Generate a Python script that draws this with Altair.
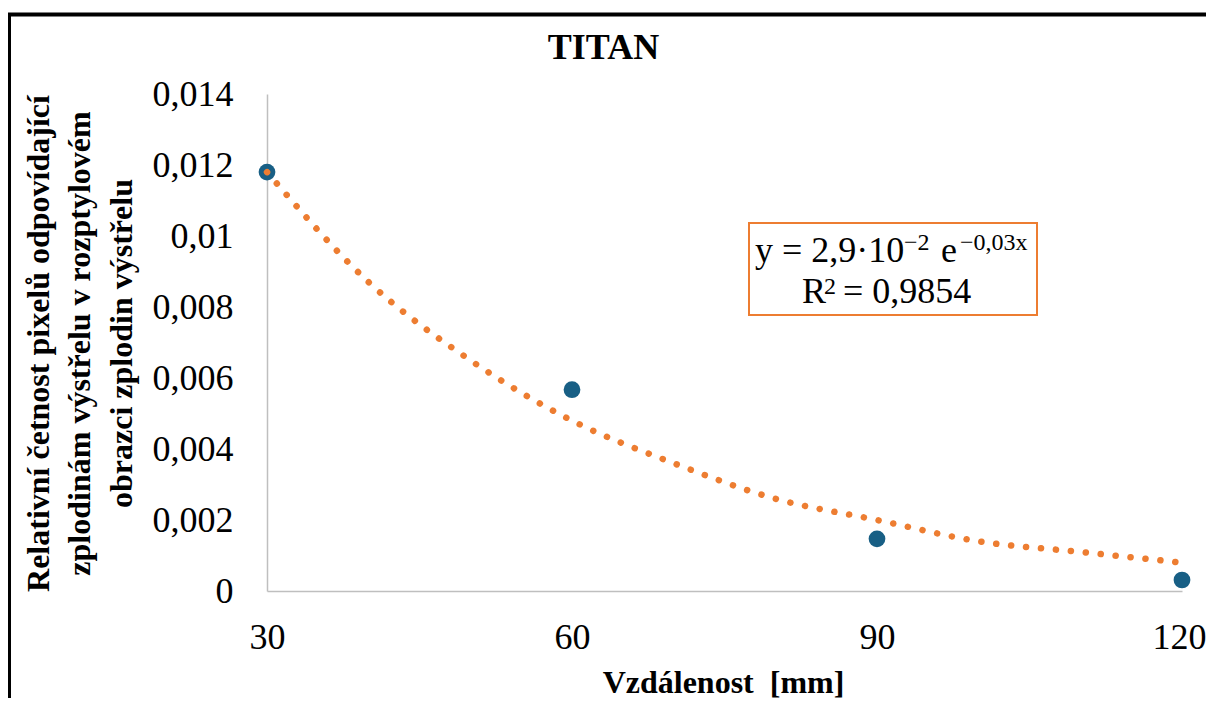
import altair as alt
import pandas as pd

# Measured data points
distance = [30, 60, 90, 120]
rel_freq = [0.0118, 0.00567, 0.00147, 0.00031]

# Exponential trend line
trend_x = [30, 40, 50, 60, 70, 80, 90, 100, 110, 120]
trend_y = [0.0118, 0.0087, 0.0065, 0.0048, 0.0036, 0.0026, 0.0020, 0.0014, 0.0011, 0.0008]

y_ticks = [0, 0.002, 0.004, 0.006, 0.008, 0.010, 0.012, 0.014]
x_ticks = [30, 60, 90, 120]

points_df = pd.DataFrame({"x": distance, "y": rel_freq})
trend_df = pd.DataFrame({"x": trend_x, "y": trend_y})
one = pd.DataFrame({"a": [0]})

SERIF = "Liberation Serif"
BLUE = "#185F85"
ORANGE = "#ED7D31"

x_enc = alt.X(
    "x:Q",
    scale=alt.Scale(domain=[30, 120], nice=False, zero=False),
    axis=alt.Axis(
        values=x_ticks,
        format="d",
        title="Vzdálenost\u00a0 [mm]",
        titleFont=SERIF, titleFontSize=32, titleFontWeight="bold", titleColor="black",
        titleBaseline="alphabetic", titleAlign="center", titleX=456, titleY=101,
        labelFont=SERIF, labelFontSize=36, labelColor="black",
        labelBaseline="alphabetic", labelPadding=57, labelFlush=False,
        labelAlign="center",
        labelOffset={"condition": {"test": "datum.value === 120", "value": -3}, "value": 0},
        ticks=False, tickSize=0, grid=False,
        domainColor="#BFBFBF", domainWidth=1.5,
    ),
)
y_enc = alt.Y(
    "y:Q",
    scale=alt.Scale(domain=[0, 0.014], nice=False, zero=True),
    axis=alt.Axis(
        values=y_ticks,
        labelExpr="replace(format(datum.value, '.3~f'), '.', ',')",
        title=["Relativní četnost pixelů odpovídající",
               "zplodinám výstřelu v rozptylovém",
               "obrazci zplodin výstřelu"],
        titleFont=SERIF, titleFontSize=32, titleFontWeight="bold", titleColor="black",
        titleBaseline="alphabetic", titleAlign="center", titleAngle=270,
        titleX=-219, titleY=249, titleLineHeight=41.5,
        labelFont=SERIF, labelFontSize=36, labelColor="black",
        labelPadding=34, labelAlign="right", labelBaseline="middle", labelFlush=False,
        ticks=False, tickSize=0, grid=False,
        domainColor="#BFBFBF", domainWidth=1.5,
    ),
)

border = alt.Chart(one).mark_rect(fillOpacity=0, stroke="black", strokeWidth=4).encode(
    x=alt.value(-258), x2=alt.value(960), y=alt.value(-79.5), y2=alt.value(640)
)

pts = alt.Chart(points_df).mark_circle(size=280, color=BLUE, opacity=1).encode(x=x_enc, y=y_enc)

trend = alt.Chart(trend_df).mark_line(
    color=ORANGE, strokeWidth=6.5, strokeCap="round", strokeDash=[0.1, 14.9],
    interpolate="monotone",
).encode(x="x:Q", y="y:Q")

box = alt.Chart(one).mark_rect(fillOpacity=0, stroke=ORANGE, strokeWidth=2).encode(
    x=alt.value(482), x2=alt.value(770), y=alt.value(129), y2=alt.value(221)
)

def txt(s, xpos, ypos, size):
    return alt.Chart(one).mark_text(
        text=s, font=SERIF, fontSize=size, color="black", align="left", baseline="alphabetic"
    ).encode(x=alt.value(xpos), y=alt.value(ypos))

eq = [
    txt("y = 2,9·10", 488, 168, 36),
    txt("\u22122", 637, 156, 24),
    txt("e", 674, 168, 36),
    txt("\u22120,03x", 693, 156, 24),
    txt("R", 535, 209, 36),
    txt("2", 557, 200, 24),
    txt("= 0,9854", 576, 209, 36),
]

chart = alt.layer(border, pts, trend, box, *eq).properties(
    width=915, height=497,
    padding={"left": 259, "top": 86, "right": 24, "bottom": 107},
    autosize=alt.AutoSizeParams(type="none"),
    background="white",
    title=alt.TitleParams(
        "TITAN", font=SERIF, fontSize=36, fontWeight="bold", color="black",
        anchor="middle", frame="group", dx=-121, baseline="alphabetic", offset=-82,
    ),
).configure_view(stroke=None)

chart.save("out.html", embed_options={"renderer": "svg", "actions": False})
